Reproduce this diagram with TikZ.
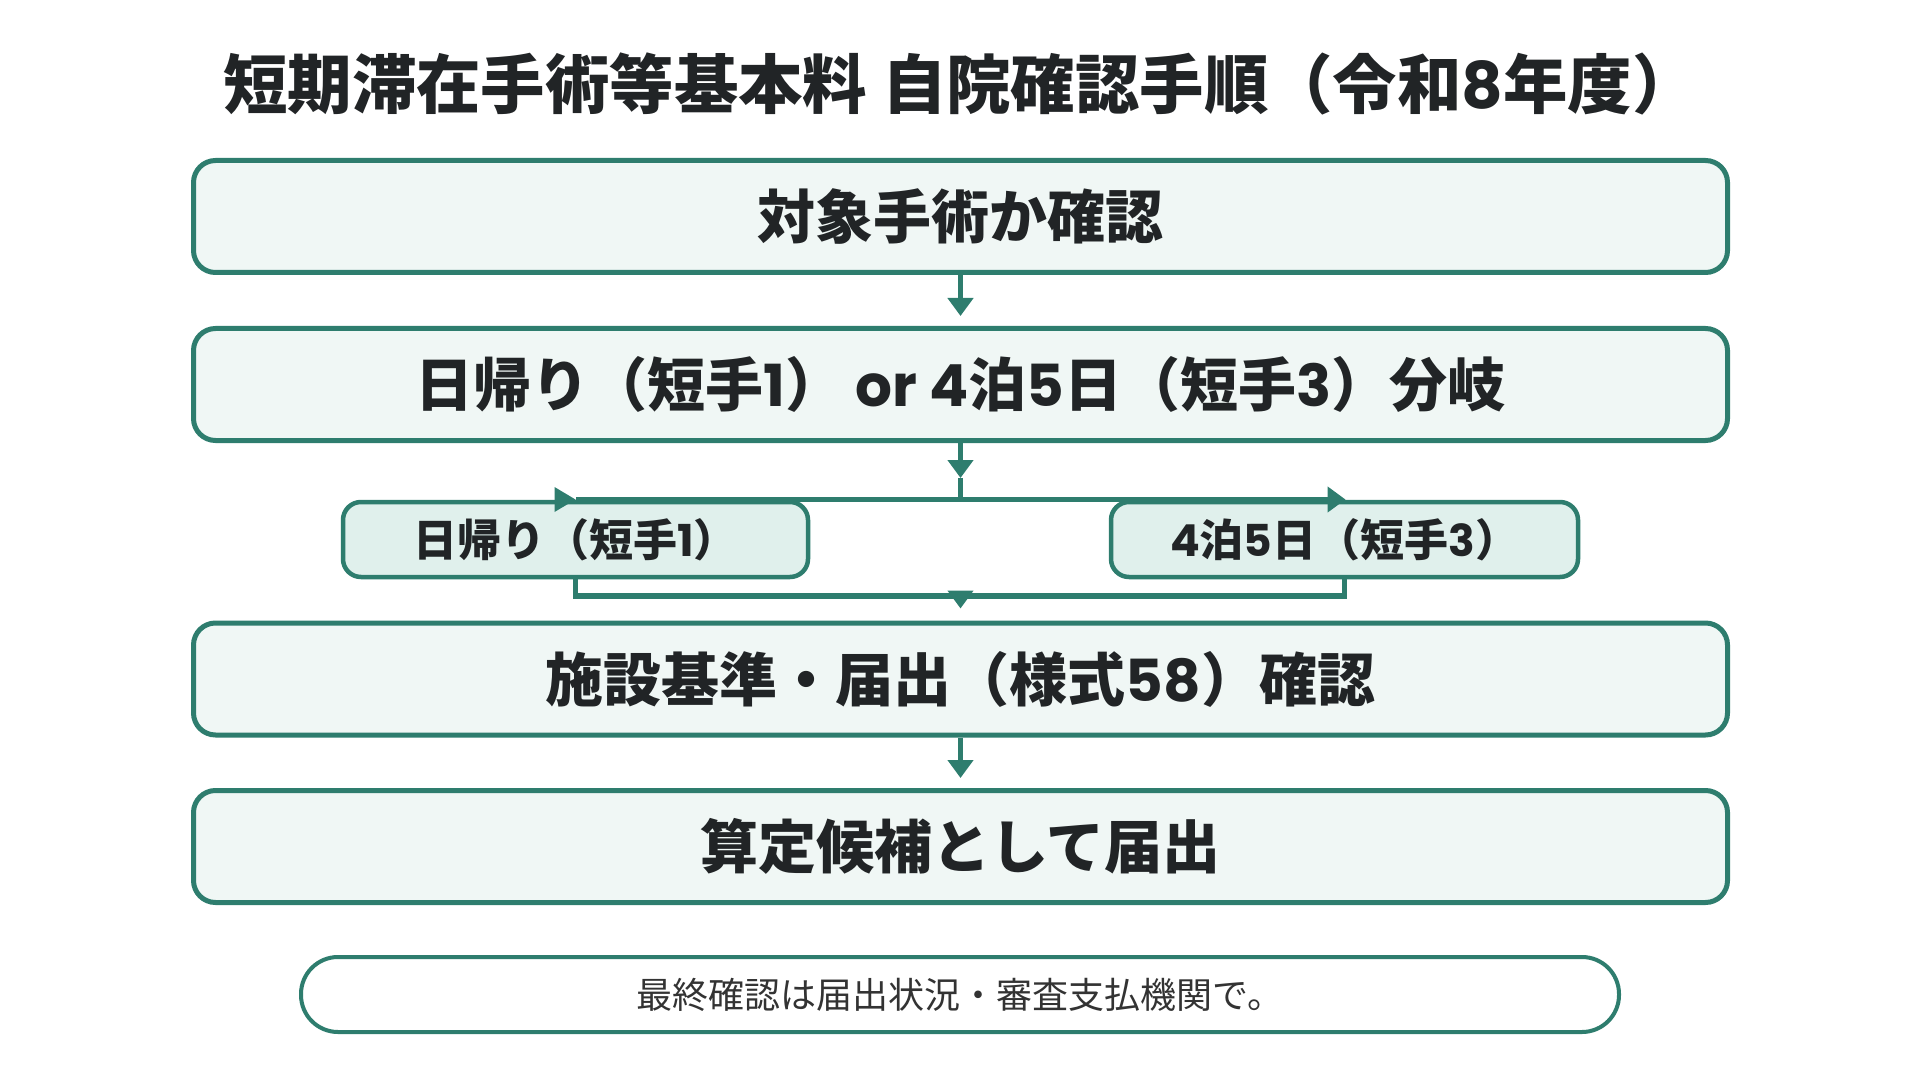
\documentclass[tikz,border=0pt]{standalone}
\usepackage{fontspec}
\setmainfont{Noto Sans CJK JP}
\newfontfamily\lat{Poppins}
\usetikzlibrary{arrows.meta}
\definecolor{edge}{RGB}{46,125,110}
\definecolor{boxfill}{RGB}{240,247,245}
\definecolor{subfill}{RGB}{224,240,236}
\definecolor{ink}{RGB}{33,36,38}
\definecolor{inklight}{RGB}{51,51,51}
\newcommand{\la}[1]{{\lat #1}}
\tikzset{
  mainbox/.style={draw=edge, fill=boxfill, line width=2.5pt, rounded corners=11pt,
    minimum width=767pt, minimum height=56pt, inner sep=0pt, text=ink,
    font=\fontsize{29pt}{34pt}\selectfont\bfseries},
  subbox/.style={draw=edge, fill=subfill, line width=2.25pt, rounded corners=9pt,
    minimum height=37.5pt, inner sep=0pt, text=ink,
    font=\fontsize{22pt}{26pt}\selectfont\bfseries},
  notebox/.style={draw=edge, fill=white, line width=2pt, rounded corners=18.5pt,
    minimum width=659pt, minimum height=37.5pt, inner sep=0pt, text=inklight,
    font=\fontsize{18pt}{22pt}\selectfont},
  flow/.style={draw=edge, line width=2.75pt},
  flowarrow/.style={flow, -{Triangle[length=9pt,width=12.5pt]}},
}
\begin{document}
\begin{tikzpicture}[x=0.5pt,y=-0.5pt]
\useasboundingbox (0,0) rectangle (1920,1080);
\node[text=ink, font=\fontsize{32.2pt}{38pt}\selectfont\bfseries] (title) at (960,84) {短期滞在手術等基本料 自院確認手順（令和\la{8}年度）};

\node[mainbox] (b1) at (960.5,216.5) {対象手術か確認};
\node[mainbox] (b2) at (960.5,384.5) {日帰り（短手\la{1}）\la{\ or 4}泊\la{5}日（短手\la{3}）分岐};
\node[subbox, minimum width=232.5pt] (l) at (575.5,539.5) {日帰り（短手\la{1}）};
\node[subbox, minimum width=233.5pt] (r) at (1344.5,539.5) {\la{4}泊\la{5}日（短手\la{3}）};
\node[mainbox] (b3) at (960.5,679) {施設基準・届出（様式\la{58}）確認};
\node[mainbox] (b4) at (960.5,846.5) {算定候補として届出};
\node[notebox] (note) at (960,994.5) {最終確認は届出状況・審査支払機関で。};

\coordinate (jtip) at (960.5,478);
\coordinate (j) at (960.5,499.5);
\coordinate (bl) at (575.5,499.5);
\coordinate (br) at (1345.5,499.5);
\coordinate (m) at (960.5,596);

\draw[flowarrow, shorten >=5pt] (b1.south) -- (b2.north);
\draw[flowarrow] (b2.south) -- (jtip);
\draw[flow] (jtip) -- (j);
\draw[flow] (j) -- (bl);
\fill[edge] (bl) -- ++(-21,-12.5) -- ++(0,25) -- cycle;
\draw[flowarrow] (j) -- (br);
\draw[flow] (l.south) |- (m) -| (r.south);
\draw[flowarrow, shorten >=6pt] (m) -- (b3.north);
\draw[flowarrow, shorten >=5pt] (b3.south) -- (b4.north);
\end{tikzpicture}
\end{document}
